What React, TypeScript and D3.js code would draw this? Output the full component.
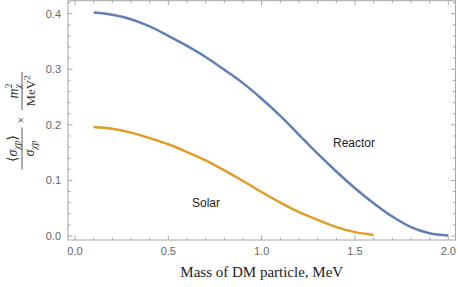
import React from "react";
import * as d3 from "d3";

const masses = [0.1,0.2,0.3,0.4,0.5,0.6,0.7,0.8,0.9,1.0,1.1,1.2,1.3,1.4,1.5,1.6,1.7,1.8,1.9,2.0];
const reactor = [0.402,0.398,0.390,0.377,0.360,0.342,0.322,0.299,0.275,0.247,0.216,0.182,0.148,0.116,0.086,0.059,0.035,0.016,0.005,0.001];
const solarMasses = [0.1,0.2,0.3,0.4,0.5,0.6,0.7,0.8,0.9,1.0,1.1,1.2,1.3,1.4,1.5,1.6];
const solar = [0.196,0.193,0.186,0.176,0.165,0.151,0.136,0.118,0.099,0.079,0.060,0.043,0.029,0.016,0.007,0.002];
const xTickLabels = ["0.0","0.5","1.0","1.5","2.0"];
const yTickLabels = ["0.0","0.1","0.2","0.3","0.4"];

const W = 458, H = 287;
const left = 68, right = 455.5, top = 0.7, bottom = 240;
const BLUE = "#5E81B5", ORANGE = "#E19C24";
const FRAME = "#a6a6a6", TICKTXT = "#666";

export default function App() {
  const x = d3.scaleLinear().domain([-0.0375, 2.0386]).range([left, right]);
  const y = d3.scaleLinear().domain([-0.0072, 0.4233]).range([bottom, top]);
  const line = d3.line<[number, number]>().x(d => x(d[0])).y(d => y(d[1])).curve(d3.curveCatmullRom.alpha(0.5));
  const rData = masses.map((m, i) => [m, reactor[i]] as [number, number]);
  const sData = solarMasses.map((m, i) => [m, solar[i]] as [number, number]);

  const xMajor = xTickLabels.map(Number);
  const xMinor = d3.range(0, 21).map(i => i / 10).filter(v => Math.abs(v * 2 - Math.round(v * 2)) > 1e-6);
  const yMajor = yTickLabels.map(Number);
  const yMinor = d3.range(0, 22).map(i => i * 0.02).filter(v => Math.abs(v * 10 - Math.round(v * 10)) > 1e-6);

  const MJ = 4.5, MN = 2.5;
  const serif = "'Liberation Serif', 'DejaVu Serif', serif";
  const sans = "'Liberation Sans', Arial, sans-serif";

  return (
    <svg width={W} height={H} style={{ position: "absolute", left: 0, top: 0 }}>
      <rect x={0} y={0} width={W} height={H} fill="#fff" />
      <g stroke={FRAME} strokeWidth={1} fill="none">
        <rect x={left} y={top} width={right - left} height={bottom - top} />
        {xMajor.map(v => (
          <g key={"xM" + v}>
            <line x1={x(v)} x2={x(v)} y1={bottom} y2={bottom - MJ} />
            <line x1={x(v)} x2={x(v)} y1={top} y2={top + MJ} />
          </g>
        ))}
        {xMinor.map(v => (
          <g key={"xm" + v}>
            <line x1={x(v)} x2={x(v)} y1={bottom} y2={bottom - MN} />
            <line x1={x(v)} x2={x(v)} y1={top} y2={top + MN} />
          </g>
        ))}
        {yMajor.map(v => (
          <g key={"yM" + v}>
            <line x1={left} x2={left + MJ} y1={y(v)} y2={y(v)} />
            <line x1={right} x2={right - MJ} y1={y(v)} y2={y(v)} />
          </g>
        ))}
        {yMinor.map(v => (
          <g key={"ym" + v}>
            <line x1={left} x2={left + MN} y1={y(v)} y2={y(v)} />
            <line x1={right} x2={right - MN} y1={y(v)} y2={y(v)} />
          </g>
        ))}
      </g>
      <g fontFamily={sans} fontSize={11} fill={TICKTXT}>
        {xTickLabels.map((t, i) => (
          <text key={"xl" + t} x={x(xMajor[i])} y={255} textAnchor="middle">{t}</text>
        ))}
        {yTickLabels.map((t, i) => (
          <text key={"yl" + t} x={61} y={y(yMajor[i]) + 4} textAnchor="end">{t}</text>
        ))}
      </g>
      <path d={line(sData) || ""} fill="none" stroke={ORANGE} strokeWidth={2.5} />
      <path d={line(rData) || ""} fill="none" stroke={BLUE} strokeWidth={2.5} />
      <g fontFamily={sans} fontSize={12} fill="#222">
        <text x={333} y={147}>Reactor</text>
        <text x={192} y={207}>Solar</text>
      </g>
      <text x={(left + right) / 2} y={277} textAnchor="middle" fontFamily={serif} fontSize={15} fill="#222">
        Mass of DM particle, MeV
      </text>
      <g transform="translate(22,148.5) rotate(-90)" fontFamily={serif} fill="#333">
        <line x1={-21} x2={21} y1={0} y2={0} stroke="#333" strokeWidth={0.8} />
        <text x={0} y={-5} textAnchor="middle" fontSize={14}>
          ⟨<tspan fontStyle="italic">σ</tspan><tspan fontSize={9.5} dy={3} fontStyle="italic">χp</tspan><tspan dy={-3}>⟩</tspan>
        </text>
        <text x={0} y={12} textAnchor="middle" fontSize={14}>
          <tspan fontStyle="italic">σ</tspan><tspan fontSize={9.5} dy={3} fontStyle="italic">χp</tspan>
        </text>
        <text x={28.5} y={3} textAnchor="middle" fontSize={12}>×</text>
        <line x1={38.5} x2={76.5} y1={0} y2={0} stroke="#333" strokeWidth={0.8} />
        <text x={57.5} y={-4} textAnchor="middle" fontSize={14}>
          <tspan fontStyle="italic">m</tspan><tspan fontSize={9.5} dy={-6}>2</tspan><tspan fontSize={9.5} dx={-5} dy={9} fontStyle="italic">χ</tspan>
        </text>
        <text x={57.5} y={13} textAnchor="middle" fontSize={13}>
          MeV<tspan fontSize={9} dy={-5}>2</tspan>
        </text>
      </g>
    </svg>
  );
}
